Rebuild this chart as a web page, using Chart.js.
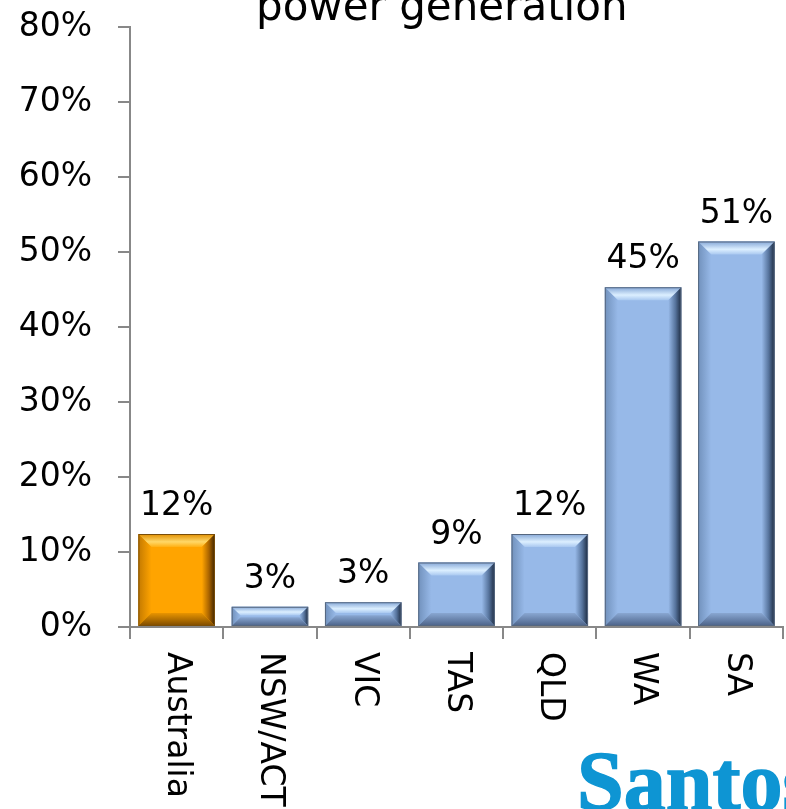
<!DOCTYPE html>
<html>
<head>
<meta charset="utf-8">
<script src="https://cdn.jsdelivr.net/npm/chart.js@4/dist/chart.umd.min.js"></script>
<style>
  html, body { margin: 0; padding: 0; background: #ffffff; }
  canvas { display: block; }
</style>
</head>
<body>
<canvas id="genChart" width="786" height="809"></canvas>
<script>
// chart data
const categories = ["Australia", "NSW/ACT", "VIC", "TAS", "QLD", "WA", "SA"];
const shareValues = [12.4, 2.7, 3.3, 8.6, 12.4, 45.3, 51.4];
const barKinds = ["total", "state", "state", "state", "state", "state", "state"];
const yTicks = [0, 10, 20, 30, 40, 50, 60, 70, 80];
const titleText = "power generation";
const logoText = "Santos";

const FONT = "'DejaVu Sans', Verdana, sans-serif";

// colours for the two kinds of bar
const palette = {
    total: {
        face: "#FFA400",
        top: ["#e08e00", "#ffd868", "#ffb014"],
        left: ["#c47a00", "#ffa400"],
        right: ["#ffa400", "#a86300", "#3e2300"],
        bottom: ["#e89400", "#7c4a00"],
        line: "#7a4e08"
    },
    state: {
        face: "#97B9E8",
        top: ["#84a6d6", "#dcefff", "#a9c8f0"],
        left: ["#7191bc", "#97b9e8"],
        right: ["#97b9e8", "#56739c", "#1c2a40"],
        bottom: ["#89a7d2", "#4b6288"],
        line: "#56677f"
    }
};

// draws the bevel look on top of each bar, plus the value above it
const bevelPlugin = {
    id: "bevel",
    afterDatasetsDraw(chart) {
        const ctx = chart.ctx;
        const meta = chart.getDatasetMeta(0);
        meta.data.forEach((bar, i) => {
            const c = palette[barKinds[i]];
            const L = bar.x - bar.width / 2, R = bar.x + bar.width / 2;
            const T = bar.y, B = bar.base;
            const b = Math.min(13, (B - T) / 2.2);
            ctx.save();
            // top
            let g = ctx.createLinearGradient(0, T, 0, T + b);
            g.addColorStop(0, c.top[0]); g.addColorStop(0.6, c.top[1]); g.addColorStop(1, c.top[2]);
            poly(ctx, [[L, T], [R, T], [R - b, T + b], [L + b, T + b]], g);
            // left
            g = ctx.createLinearGradient(L, 0, L + b, 0);
            g.addColorStop(0, c.left[0]); g.addColorStop(1, c.left[1]);
            poly(ctx, [[L, T], [L + b, T + b], [L + b, B - b], [L, B]], g);
            // right
            g = ctx.createLinearGradient(R - b, 0, R, 0);
            g.addColorStop(0, c.right[0]); g.addColorStop(0.55, c.right[1]); g.addColorStop(1, c.right[2]);
            poly(ctx, [[R, T], [R, B], [R - b, B - b], [R - b, T + b]], g);
            // bottom
            g = ctx.createLinearGradient(0, B - b, 0, B);
            g.addColorStop(0, c.bottom[0]); g.addColorStop(1, c.bottom[1]);
            poly(ctx, [[L, B], [R, B], [R - b, B - b], [L + b, B - b]], g);
            ctx.strokeStyle = c.line;
            ctx.lineWidth = 1;
            ctx.strokeRect(L + 0.5, T + 0.5, R - L - 1, B - T - 1);
            ctx.restore();

            // value label
            ctx.save();
            ctx.font = "33px " + FONT;
            ctx.fillStyle = "#000000";
            ctx.textAlign = "center";
            ctx.textBaseline = "alphabetic";
            ctx.fillText(Math.round(shareValues[i]) + "%", bar.x, T - 19);
            ctx.restore();
        });
    },
    afterDraw(chart) {
        const ctx = chart.ctx;
        const xScale = chart.scales.x;
        // category labels, turned to read downwards
        ctx.save();
        ctx.font = "33px " + FONT;
        ctx.fillStyle = "#000000";
        ctx.textAlign = "left";
        ctx.textBaseline = "middle";
        categories.forEach((cat, i) => {
            const x = xScale.getPixelForValue(i);
            ctx.save();
            ctx.translate(x, xScale.top + 25);
            ctx.rotate(Math.PI / 2);
            ctx.fillText(cat, 0, 0);
            ctx.restore();
        });
        ctx.restore();

        // title, cut off by the top edge
        ctx.save();
        ctx.font = "42px " + FONT;
        ctx.fillStyle = "#000000";
        ctx.textAlign = "left";
        ctx.textBaseline = "alphabetic";
        ctx.fillText(titleText, 256, 20);
        ctx.restore();

        // logo text
        ctx.save();
        ctx.font = "bold 84px 'Liberation Serif', 'DejaVu Serif', serif";
        ctx.fillStyle = "#0E95D3";
        ctx.strokeStyle = "#0E95D3";
        ctx.lineWidth = 1.5;
        ctx.textAlign = "left";
        ctx.textBaseline = "alphabetic";
        ctx.fillText(logoText, 577, 810);
        ctx.strokeText(logoText, 577, 810);
        ctx.restore();
    }
};

function poly(ctx, pts, fill) {
    ctx.beginPath();
    ctx.moveTo(pts[0][0], pts[0][1]);
    for (let k = 1; k < pts.length; k++) ctx.lineTo(pts[k][0], pts[k][1]);
    ctx.closePath();
    ctx.fillStyle = fill;
    ctx.fill();
}

const ctx = document.getElementById("genChart").getContext("2d");
const chart = new Chart(ctx, {
    type: "bar",
    data: {
        labels: categories,
        datasets: [{
            label: "",
            data: shareValues,
            backgroundColor: barKinds.map(k => palette[k].face),
            borderWidth: 0,
            categoryPercentage: 1.0,
            barPercentage: 0.82
        }]
    },
    options: {
        responsive: false,
        animation: false,
        devicePixelRatio: 1,
        layout: {
            padding: { top: 27, right: 3, left: 0, bottom: 0 }
        },
        plugins: {
            legend: { display: false },
            tooltip: { enabled: false },
            title: { display: false }
        },
        scales: {
            x: {
                offset: true,
                grid: {
                    display: true,
                    drawOnChartArea: false,
                    drawTicks: true,
                    tickLength: 12,
                    color: "#888888",
                    lineWidth: 2,
                    offset: true
                },
                border: { display: true, color: "#888888", width: 2 },
                ticks: { display: false },
                afterFit(scale) { scale.height = 182; }
            },
            y: {
                min: 0,
                max: 80,
                afterBuildTicks(scale) {
                    scale.ticks = yTicks.map(v => ({ value: v }));
                },
                grid: {
                    display: true,
                    drawOnChartArea: false,
                    drawTicks: true,
                    tickLength: 12,
                    color: "#888888",
                    lineWidth: 2
                },
                border: { display: true, color: "#888888", width: 2 },
                ticks: {
                    color: "#000000",
                    padding: 26,
                    font: { family: FONT, size: 33 },
                    callback: v => v + "%"
                },
                afterFit(scale) {
                    scale.width = 130;
                    // the layout padding decides the plot top, not the label overhang
                    scale.paddingTop = 0;
                    scale.paddingBottom = 0;
                }
            }
        }
    },
    plugins: [bevelPlugin]
});
</script>
</body>
</html>
